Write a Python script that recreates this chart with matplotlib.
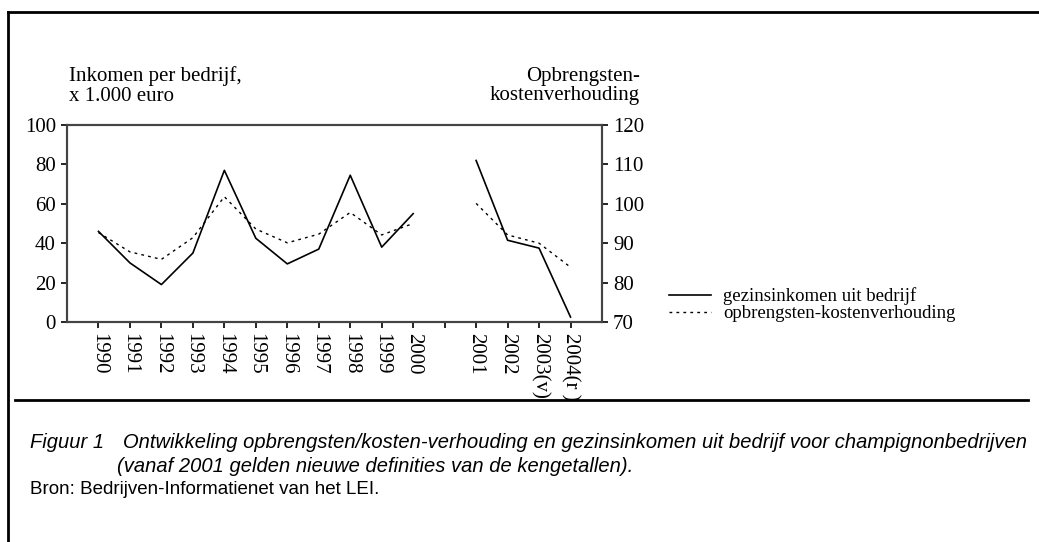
import matplotlib.pyplot as plt
from matplotlib.lines import Line2D

# data (position 11 is an empty gap between 2000 and 2001)
years = ["1990", "1991", "1992", "1993", "1994", "1995", "1996", "1997", "1998",
         "1999", "2000", "", "2001", "2002", "2003(v)", "2004(r )"]
inkomen_old = [46, 30, 19, 35, 77, 42.5, 29.5, 37, 74.5, 38, 55]
inkomen_new = [82, 41.5, 37.5, 2.5]
verhouding_old = [92.7, 87.8, 85.9, 91.4, 101.8, 93.6, 90.1, 92.3, 97.8, 92.1, 95]
verhouding_new = [100.1, 92.1, 90, 83.9]

SERIF = ["Liberation Serif", "DejaVu Serif"]
SANS = ["Liberation Sans", "DejaVu Sans"]

fig = plt.figure(figsize=(10.39, 5.42), dpi=100)
W, H = 1039, 542
ax = fig.add_axes([67 / W, 1 - 322 / H, (602 - 67) / W, (322 - 125) / H])
ax2 = ax.twinx()

x_old = list(range(0, 11))
x_new = list(range(12, 16))
DOT = (0, (2, 3))
ax.plot(x_old, inkomen_old, color="black", lw=1.2)
ax.plot(x_new, inkomen_new, color="black", lw=1.2)
ax2.plot(x_old, verhouding_old, color="black", lw=1.0, ls=DOT)
ax2.plot(x_new, verhouding_new, color="black", lw=1.0, ls=DOT)

ax.set_xlim(-1, 16)
ax.set_ylim(0, 100)
ax2.set_ylim(70, 120)
ax.set_yticks(range(0, 101, 20))
ax2.set_yticks(range(70, 121, 10))
ax.set_xticks(range(len(years)))
ax.set_xticklabels(years, rotation=-90, va="top", ha="center", family=SERIF, fontsize=15)
for t in ax.get_yticklabels() + ax2.get_yticklabels():
    t.set_family(SERIF)
    t.set_fontsize(15)
ax.tick_params(axis="both", direction="out", length=4, width=1.2, colors="black", pad=4)
ax2.tick_params(axis="y", direction="out", length=4, width=1.2, colors="black", pad=4)
for a in (ax, ax2):
    for s in a.spines.values():
        s.set_linewidth(1.5)
        s.set_color("#444444")

fig.text(69 / W, 1 - 86 / H, "Inkomen per bedrijf,\nx 1.000 euro", family=SERIF,
         fontsize=15, ha="left", va="center", linespacing=1.05)
fig.text(640 / W, 1 - 86 / H, "Opbrengsten-\nkostenverhouding", family=SERIF,
         fontsize=15, ha="right", va="center", linespacing=1.05, multialignment="right")

handles = [Line2D([], [], color="black", lw=1.2),
           Line2D([], [], color="black", lw=1.0, ls=DOT)]
fig.legend(handles, ["gezinsinkomen uit bedrijf", "opbrengsten-kostenverhouding"],
           loc="center left", bbox_to_anchor=(669 / W, 1 - 305 / H), frameon=False,
           prop={"family": SERIF, "size": 13.5}, handlelength=2.25, handletextpad=0.65,
           labelspacing=0.0, borderaxespad=0, borderpad=0)

# page frame and rule
fig.add_artist(Line2D([8 / W, 8 / W], [0, 1 - 12 / H], color="black", lw=2))
fig.add_artist(Line2D([8 / W, 1], [1 - 12 / H, 1 - 12 / H], color="black", lw=2))
fig.add_artist(Line2D([15 / W, 1028 / W], [1 - 400 / H, 1 - 400 / H], color="black", lw=2))

CAP = 14.5
fig.text(30 / W, 1 - 442 / H, "Figuur 1", family=SANS, style="italic", fontsize=CAP,
         va="center")
fig.text(123 / W, 1 - 442 / H,
         "Ontwikkeling opbrengsten/kosten-verhouding en gezinsinkomen uit bedrijf voor champignonbedrijven",
         family=SANS, style="italic", fontsize=CAP, va="center")
fig.text(117 / W, 1 - 466 / H, "(vanaf 2001 gelden nieuwe definities van de kengetallen).",
         family=SANS, style="italic", fontsize=CAP, va="center")
fig.text(30 / W, 1 - 490 / H, "Bron: Bedrijven-Informatienet van het LEI.",
         family=SANS, fontsize=13.5, va="center")

fig.savefig("out.png", dpi=100)
